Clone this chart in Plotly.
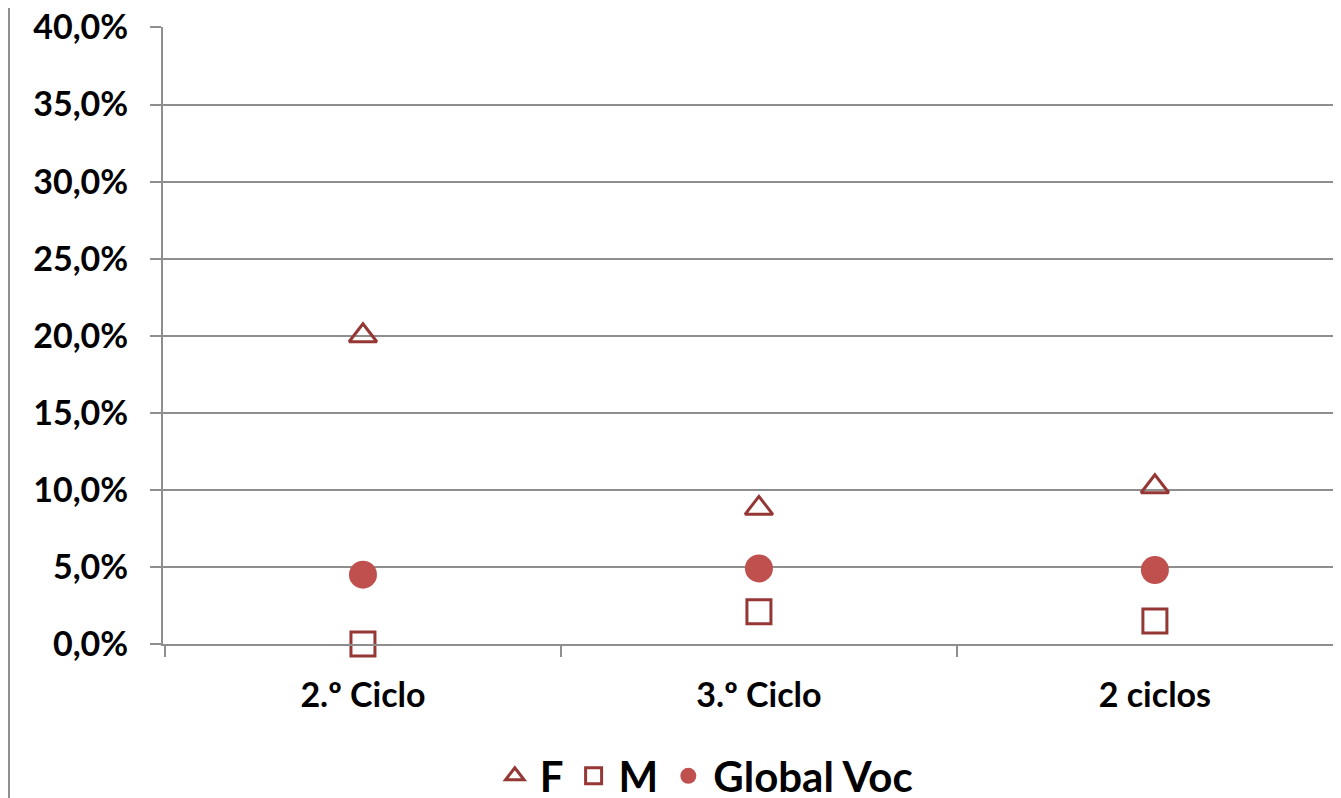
import plotly.graph_objects as go

categories = ["2.º Ciclo", "3.º Ciclo", "2 ciclos"]
f_values = [0.200, 0.088, 0.102]
m_values = [0.000, 0.021, 0.015]
global_values = [0.045, 0.049, 0.048]
y_ticks = [0.0, 0.05, 0.10, 0.15, 0.20, 0.25, 0.30, 0.35, 0.40]
y_tick_labels = ["0,0%", "5,0%", "10,0%", "15,0%", "20,0%", "25,0%", "30,0%", "35,0%", "40,0%"]

W, H = 1333, 790
ML, MR, MT, MB = 155, 0, 19, 154
FONT = "Lato"
DARK = "#953735"
FILL = "#C0504D"
GRID = "#8E8E8E"

fig = go.Figure()
fig.add_trace(go.Scatter(
    x=categories, y=f_values, name="F", mode="markers",
    marker=dict(symbol="triangle-up-open", size=24, color=DARK, line=dict(width=3, color=DARK)),
    cliponaxis=False))
fig.add_trace(go.Scatter(
    x=categories, y=m_values, name="M", mode="markers",
    marker=dict(symbol="square-open", size=24, color=DARK, line=dict(width=3, color=DARK)),
    cliponaxis=False))
fig.add_trace(go.Scatter(
    x=categories, y=global_values, name="Global Voc", mode="markers",
    marker=dict(symbol="circle", size=28, color=FILL, line=dict(width=0)),
    cliponaxis=False))

plot_w = W - ML - MR
plot_h = H - MT - MB
fig.update_layout(
    width=W, height=H,
    margin=dict(l=ML, r=MR, t=MT, b=MB, pad=0, autoexpand=False),
    paper_bgcolor="white", plot_bgcolor="white",
    font=dict(family=FONT, color="black"),
    showlegend=True,
    legend=dict(orientation="h", xref="container", yref="container",
                x=0.522, y=1 - 768 / H, xanchor="center", yanchor="middle",
                font=dict(family=FONT, size=42, color="black", weight="bold"),
                itemsizing="trace", tracegroupgap=0, itemwidth=40),
    xaxis=dict(
        type="category", range=[-0.505, 2.47],
        showgrid=False, zeroline=False,
        showline=True, linecolor=GRID, linewidth=2,
        ticks="outside", ticklen=11, tickwidth=2, tickcolor=GRID,
        tickson="boundaries", ticklabelstandoff=20,
        tickfont=dict(family=FONT, size=34, color="black", weight="bold"),
    ),
    yaxis=dict(
        range=[0, 0.4003], tickvals=y_ticks, ticktext=y_tick_labels,
        showgrid=True, gridcolor=GRID, gridwidth=2,
        zeroline=False,
        showline=True, linecolor=GRID, linewidth=2,
        ticks="outside", ticklen=11, tickwidth=2, tickcolor=GRID,
        ticklabelstandoff=15, ticklabeloverflow="allow",
        tickfont=dict(family=FONT, size=34, color="black", weight="bold"),
    ),
    shapes=[dict(type="line", xref="paper", yref="paper",
                 x0=(1 - ML) / plot_w, x1=(1 - ML) / plot_w,
                 y0=-MB / plot_h, y1=1 + MT / plot_h,
                 line=dict(color=GRID, width=2))],
)

fig.write_html("out.html")
